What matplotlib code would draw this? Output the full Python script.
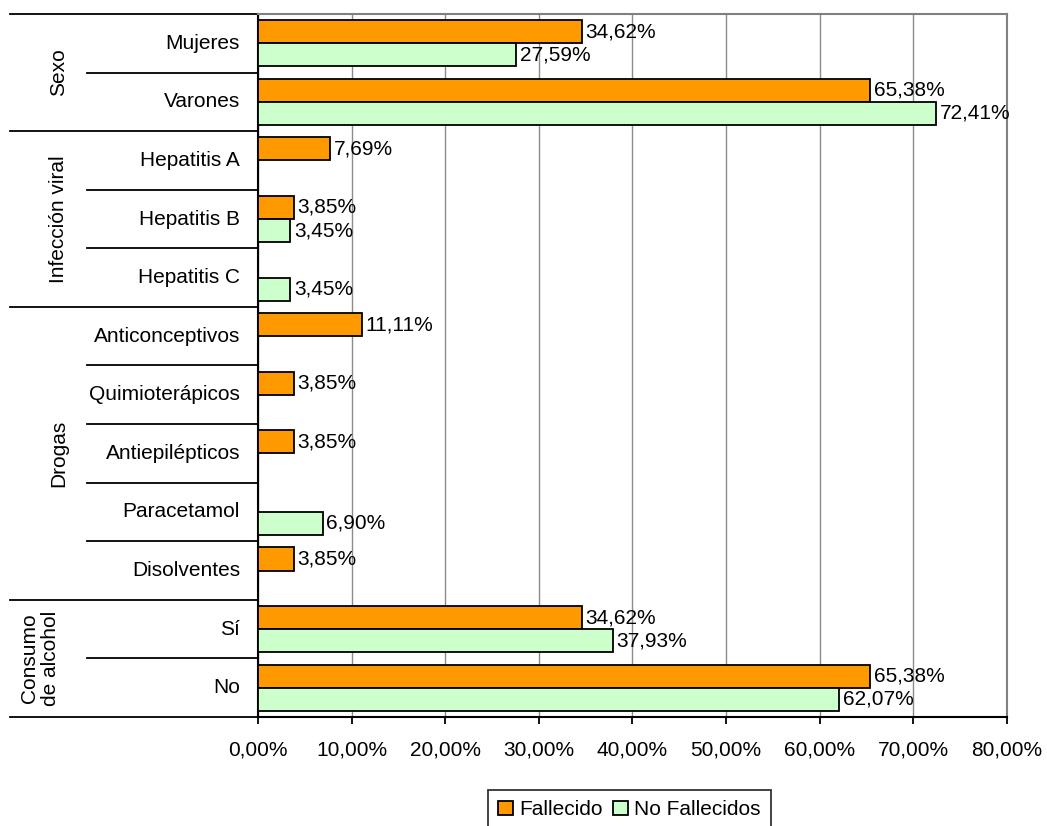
import matplotlib.pyplot as plt
from matplotlib.ticker import FuncFormatter
from matplotlib.patches import Patch
import numpy as np

plt.rcParams['font.family'] = ['Liberation Sans', 'DejaVu Sans']
plt.rcParams['font.size'] = 15

categories = ['Mujeres', 'Varones', 'Hepatitis A', 'Hepatitis B', 'Hepatitis C',
              'Anticonceptivos', 'Quimioterápicos', 'Antiepilépticos',
              'Paracetamol', 'Disolventes', 'Sí', 'No']
fallecido = [34.62, 65.38, 7.69, 3.85, 0, 11.11, 3.85, 3.85, 0, 3.85, 34.62, 65.38]
no_fallecidos = [27.59, 72.41, 0, 3.45, 3.45, 0, 0, 0, 6.90, 0, 37.93, 62.07]

# group label, first index, last index
groups = [('Sexo', 0, 1), ('Infección viral', 2, 4), ('Drogas', 5, 9),
          ('Consumo\nde alcohol', 10, 11)]

series_names = ['Fallecido', 'No Fallecidos']
colors = ['#FF9900', '#CCFFCC']


def pct(v, pos=None):
    return f"{v:.2f}".replace('.', ',') + '%'


fig = plt.figure(figsize=(10.47, 8.26), dpi=100)
ax = fig.add_axes([0.2464, 0.1320, 0.7154, 0.8511])

y = np.arange(len(categories))
h = 0.395

b1 = ax.barh(y - h / 2, fallecido, height=h, color=colors[0], edgecolor='black', linewidth=1.3, zorder=3)
b2 = ax.barh(y + h / 2, no_fallecidos, height=h, color=colors[1], edgecolor='black', linewidth=1.3, zorder=3)

for bars, vals in [(b1, fallecido), (b2, no_fallecidos)]:
    for bar, v in zip(bars, vals):
        if v == 0:
            bar.set_visible(False)
            continue
        ax.annotate(pct(v), (v, bar.get_y() + bar.get_height() / 2),
                    xytext=(2.5, 0), textcoords='offset points',
                    va='center', ha='left', zorder=4)

ax.set_xlim(0, 80)
ax.set_ylim(len(categories) - 0.5, -0.5)
ax.set_xticks(np.arange(0, 81, 10))
ax.xaxis.set_major_formatter(FuncFormatter(pct))
ax.tick_params(axis='x', length=5, width=1.3, pad=12, color='black')
ax.set_yticks([])

ax.grid(axis='x', color='#8c8c8c', linewidth=1, zorder=0)
ax.set_axisbelow(True)
for s in ['top', 'right']:
    ax.spines[s].set_color('#808080')
    ax.spines[s].set_linewidth(1.5)
for s in ['left', 'bottom']:
    ax.spines[s].set_color('black')
    ax.spines[s].set_linewidth(1.5)

# category labels and separators on the left
tr = ax.get_yaxis_transform()
for i, name in enumerate(categories):
    ax.text(-0.024, i, name, transform=tr, ha='right', va='center')

x_outer = -0.331
x_inner = -0.2283
for label, first, last in groups:
    ax.plot([x_outer, 0], [first - 0.5, first - 0.5], color='black', lw=1.3,
            transform=tr, clip_on=False)
    for k in range(first + 1, last + 1):
        ax.plot([x_inner, 0], [k - 0.5, k - 0.5], color='black', lw=1.3,
                transform=tr, clip_on=False)
    xl = -0.291 if '\n' in label else -0.2657
    ax.text(xl, (first + last) / 2, label, transform=tr, rotation=90,
            ha='center', va='center', multialignment='center', linespacing=1.15)
ax.plot([x_outer, 0], [len(categories) - 0.5] * 2, color='black', lw=1.3,
        transform=tr, clip_on=False)

handles = [Patch(facecolor=c, edgecolor='black', linewidth=1.3) for c in colors]
leg = fig.legend(handles, series_names, loc='upper center',
                 bbox_to_anchor=(0.601, 0.0436), ncol=2, frameon=True,
                 fancybox=False, edgecolor='black', handlelength=0.7,
                 handleheight=0.7, handletextpad=0.3, columnspacing=0.5,
                 borderpad=0.5, borderaxespad=0)
leg.get_frame().set_linewidth(1.3)

fig.savefig('out.png', dpi=100)
